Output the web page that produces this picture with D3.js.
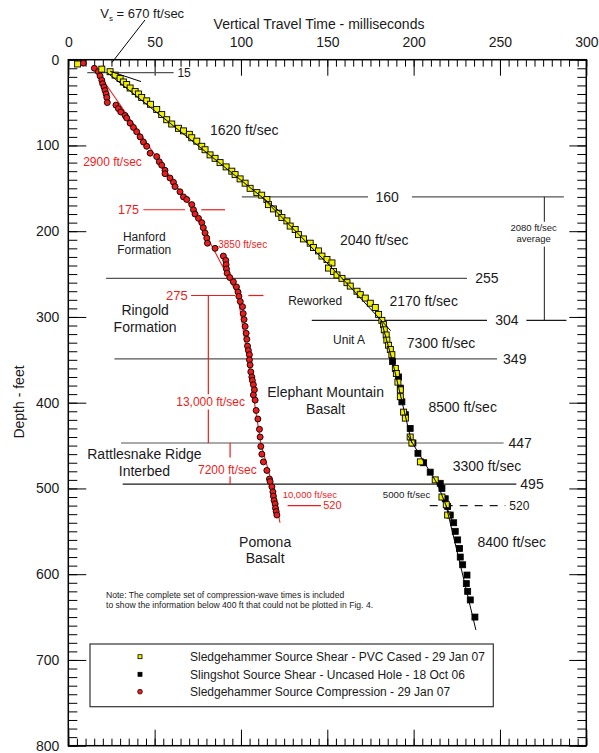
<!DOCTYPE html>
<html>
<head>
<meta charset="utf-8">
<script src="https://cdn.jsdelivr.net/npm/d3@7"></script>
<style>
  body { margin: 0; background: #fff; }
  svg { display: block; font-family: Arial, "Liberation Sans", sans-serif; }
</style>
</head>
<body>
<svg id="chart" width="599" height="753"></svg>
<script>
// ---- Data: [depth (ft), vertical travel time (ms)] ----
const pvcShear = [
  [5,5.4],[11,19.4],[14,24.2],[18,27.1],[22,30.0],[26,31.9],[29,33.8],[33,35.8],[37,38.7],[40,40.6],
  [44,42.5],[48,45.4],[52,47.6],[58,51.2],[64,54.1],[70,57.0],[75,59.9],[80,63.8],[83,66.7],[87,70.1],
  [91,71.5],[95,74.4],[101,77.3],[105,79.2],[111,82.1],[115,85.0],[120,87.9],[125,91.4],[130,94.7],[134,96.6],
  [139,99.5],[144,102.4],[150,105.3],[155,109.2],[158,112.0],[163,115.0],[169,115.9],[174,118.8],[179,121.7],[184,123.7],
  [188,126.6],[194,128.5],[198,131.4],[204,133.3],[209,136.2],[214,140.1],[219,142.0],[223,144.9],[229,146.9],[233,149.8],
  [237,152.7],[243,150.7],[247,153.6],[251,155.6],[255,158.5],[260,161.4],[264,163.3],[270,167.2],[274,169.1],[278,172.0],
  [284,174.9],[289,177.8],[297,179.7],[304,181.6],[309,182.6],[315,183.0],[321,184.1],[327,184.5],[333,185.5],[338,186.5],
  [344,187.4],[360,189.4],[366,190.0],[376,190.9],[385,192.3],[393,192.3],[411,194.2],[418,195.2],[440,198.0],[447,199.0],
  [469,203.9],[490,212.5],[510,216.4],[519,218.9],[531,219.7]
];
const uncasedShear = [
  [352,187.8],[370,191.3],[383,192.3],[399,193.2],[414,195.2],[430,198.0],[447,199.6],[459,202.5],[470,205.8],[481,209.6],
  [494,215.4],[500,216.4],[512,218.3],[521,219.7],[531,221.2],[540,223.2],[550,224.1],[560,225.5],[570,226.6],[580,227.0],
  [589,228.4],[601,230.9],[611,230.5],[620,231.3],[630,232.8],[650,235.5]
];
const compression = [
  [4,8.7],[10,15.1],[14,17.4],[19,18.4],[24,19.4],[28,19.9],[32,20.7],[36,21.3],[40,21.9],[44,22.3],
  [50,22.6],[53,27.6],[57,29.0],[61,30.4],[65,32.9],[68,33.8],[74,35.8],[79,37.7],[84,39.6],[90,41.6],
  [96,43.5],[101,45.4],[109,47.4],[113,51.2],[119,52.7],[123,54.1],[129,56.0],[133,56.0],[138,58.9],[143,60.9],
  [148,61.8],[154,64.7],[160,66.7],[163,68.6],[169,71.5],[175,72.5],[180,73.4],[185,75.4],[190,77.3],[196,78.2],
  [202,79.2],[208,80.2],[214,80.6],[220,85.0],[229,89.8],[234,91.2],[239,91.4],[244,91.6],[249,92.0],[254,93.5],
  [259,95.6],[265,97.4],[271,98.3],[276,98.8],[282,99.6],[288,100.9],[296,101.3],[303,101.8],[311,102.4],[319,103.0],
  [326,103.4],[334,103.8],[339,104.3],[344,104.9],[350,104.9],[356,105.3],[364,105.7],[370,106.3],[374,106.6],[379,107.2],
  [385,107.8],[391,107.2],[397,108.2],[409,108.8],[419,109.8],[431,110.7],[440,111.1],[451,111.5],[460,112.1],[469,113.0],
  [479,115.0],[489,116.5],[492,116.9],[498,117.9],[504,118.5],[509,118.8],[514,119.2],[518,119.8],[523,120.0],[527,120.4],[531,120.8]
];

// Interval velocity fits: anchor time (ms), anchor depth (ft), velocity (ft/sec), depth span drawn
const shearFits = [
  {t0: 24.2,  d0: 13.5, v: 670,  from: 13.5, to: 25.5},
  {t0: 112.0, d0: 160,  v: 1620, from: 15,   to: 179},
  {t0: 112.0, d0: 160,  v: 2040, from: 160,  to: 257},
  {t0: 158.6, d0: 255,  v: 2170, from: 255,  to: 316},
  {t0: 181.2, d0: 304,  v: 7300, from: 304,  to: 349},
  {t0: 187.4, d0: 349,  v: 8500, from: 349,  to: 447},
  {t0: 199.3, d0: 447,  v: 3300, from: 438,  to: 495},
  {t0: 213.8, d0: 495,  v: 5000, from: 495,  to: 540},
  {t0: 218.8, d0: 520,  v: 8400, from: 520,  to: 665}
];
const compressionFits = [
  {t0: 72.2,  d0: 175, v: 2900,  from: 10,  to: 175},
  {t0: 72.2,  d0: 175, v: 3850,  from: 175, to: 285},
  {t0: 98.2,  d0: 275, v: 13000, from: 275, to: 447},
  {t0: 111.4, d0: 447, v: 7200,  from: 447, to: 495},
  {t0: 118.1, d0: 495, v: 10000, from: 495, to: 540}
];

const timeTicks = [0, 50, 100, 150, 200, 250, 300];
const depthTicks = [0, 100, 200, 300, 400, 500, 600, 700, 800];
const legendLabels = [
  "Sledgehammer Source Shear - PVC Cased - 29 Jan 07",
  "Slingshot Source Shear - Uncased Hole - 18 Oct 06",
  "Sledgehammer Source Compression - 29 Jan 07"
];

// ---- Setup ----
const svg = d3.select("#chart");
const x = d3.scaleLinear().domain([0, 300]).range([68.3, 586.3]);
const y = d3.scaleLinear().domain([0, 800]).range([59.7, 745.7]);
const YELLOW = "#f0f000", RED = "#ec1c1c", GRAY = "#555", INK = "#1a1a1a";

// ---- Axes (ticks pointing inward on all four sides) ----
function styleAxis(g) {
  g.select(".domain").remove();
  g.selectAll(".tick line").attr("stroke", "#000").attr("stroke-width", 1);
  g.selectAll("text").attr("font-family", "Arial, 'Liberation Sans', sans-serif")
    .attr("font-size", 14).attr("fill", INK);
}
const minorT = d3.range(0, 301, 5), minorD = d3.range(0, 801, 10);

svg.append("g").attr("transform", `translate(0,${y(0)})`)
  .call(d3.axisTop(x).tickValues(minorT).tickSizeInner(-7).tickSizeOuter(0).tickFormat(""))
  .call(styleAxis);
svg.append("g").attr("transform", `translate(0,${y(0)})`)
  .call(d3.axisTop(x).tickValues(timeTicks).tickSizeInner(-16).tickSizeOuter(0).tickPadding(13).tickFormat(d3.format("d")))
  .call(styleAxis);
svg.append("g").attr("transform", `translate(0,${y(800)})`)
  .call(d3.axisBottom(x).tickValues(minorT).tickSizeInner(-7).tickSizeOuter(0).tickFormat(""))
  .call(styleAxis);
svg.append("g").attr("transform", `translate(0,${y(800)})`)
  .call(d3.axisBottom(x).tickValues(timeTicks).tickSizeInner(-16).tickSizeOuter(0).tickFormat(""))
  .call(styleAxis);
svg.append("g").attr("transform", `translate(${x(0)},0)`)
  .call(d3.axisLeft(y).tickValues(minorD).tickSizeInner(-9).tickSizeOuter(0).tickFormat(""))
  .call(styleAxis);
svg.append("g").attr("transform", `translate(${x(0)},0)`)
  .call(d3.axisLeft(y).tickValues(depthTicks).tickSizeInner(-18).tickSizeOuter(0).tickPadding(9).tickFormat(d3.format("d")))
  .call(styleAxis);
svg.append("g").attr("transform", `translate(${x(300)},0)`)
  .call(d3.axisRight(y).tickValues(minorD).tickSizeInner(-9).tickSizeOuter(0).tickFormat(""))
  .call(styleAxis);
svg.append("g").attr("transform", `translate(${x(300)},0)`)
  .call(d3.axisRight(y).tickValues(depthTicks).tickSizeInner(-17).tickSizeOuter(0).tickFormat(""))
  .call(styleAxis);

svg.append("rect")
  .attr("x", x(0)).attr("y", y(0))
  .attr("width", x(300) - x(0)).attr("height", y(800) - y(0))
  .attr("fill", "none").attr("stroke", "#000").attr("stroke-width", 1.5);

// Axis titles
svg.append("text").attr("x", 319).attr("y", 29).attr("text-anchor", "middle")
  .attr("font-size", 14).attr("fill", INK).text("Vertical Travel Time - milliseconds");
svg.append("text").attr("transform", "translate(24,402) rotate(-90)").attr("text-anchor", "middle")
  .attr("font-size", 14).attr("fill", INK).text("Depth - feet");

// ---- Layer boundaries and annotation lines ----
const ann = svg.append("g");
function hseg(d, t1, t2, color, w, dash) {
  ann.append("line").attr("x1", x(t1)).attr("x2", x(t2)).attr("y1", y(d)).attr("y2", y(d))
    .attr("stroke", color).attr("stroke-width", w || 1.2)
    .attr("stroke-dasharray", dash || null);
}
function vseg(t, d1, d2, color, w) {
  ann.append("line").attr("x1", x(t)).attr("x2", x(t)).attr("y1", y(d1)).attr("y2", y(d2))
    .attr("stroke", color).attr("stroke-width", w || 1.2);
}
function label(t, d, txt, size, color, anchor) {
  return ann.append("text").attr("x", x(t)).attr("y", y(d)).attr("dy", "0.35em")
    .attr("text-anchor", anchor || "middle").attr("font-size", size).attr("fill", color || INK).text(txt);
}

// Shear-wave layer boundaries
hseg(15, 11, 61, GRAY);            label(63.2, 15, "15", 12, INK, "start");
hseg(160, 100.5, 173.6, GRAY);     hseg(160, 199, 287, GRAY);   label(184.7, 160, "160", 14);
hseg(255, 21.9, 230.9, GRAY);      label(235.7, 255, "255", 14, INK, "start");
hseg(304, 141, 242.5, INK);        hseg(304, 265.3, 288.5, INK); label(247.3, 304, "304", 14, INK, "start");
hseg(349, 26.7, 248.3, GRAY);      label(251.8, 349, "349", 14, INK, "start");
hseg(447, 30.5, 252.1, GRAY);      label(254.9, 447, "447", 14, INK, "start");
hseg(495, 31.5, 259.5, INK);       label(261.8, 495, "495", 14, INK, "start");
hseg(520, 209.3, 253.1, INK, 1.1, "8,7"); label(255.4, 520, "520", 12, INK, "start");

// Average velocity bracket
vseg(275.7, 160, 189, INK, 1);     vseg(275.7, 218, 304, INK, 1);
label(269.5, 196, "2080 ft/sec", 9.5);
label(269.5, 209, "average", 9.5);

// Compression-wave boundaries
hseg(175, 43.5, 67.6, RED);        hseg(175, 77, 90.8, RED);    label(28.8, 175, "175", 12.5, RED, "start");
hseg(275, 71.1, 96.6, RED);        hseg(275, 104.3, 113, RED);  label(56.6, 275, "275", 13, RED, "start");
hseg(520, 127, 146.3, RED);        label(147.6, 520, "520", 11, RED, "start");
vseg(81.1, 275, 390, RED);         vseg(81.1, 408, 447, RED);
vseg(93.7, 447, 464, RED);         vseg(93.7, 486, 495, RED);

// ---- Markers ----
const marks = svg.append("g");
function fitPoints(f) {
  return [[f.t0 + (f.from - f.d0) / f.v * 1000, f.from], [f.t0 + (f.to - f.d0) / f.v * 1000, f.to]];
}
const lineGen = d3.line().x(p => x(p[0])).y(p => y(p[1]));

// compression fits under the red circles
marks.selectAll(".pfit").data(compressionFits).join("path")
  .attr("d", f => lineGen(fitPoints(f))).attr("fill", "none")
  .attr("stroke", RED).attr("stroke-width", 1.1);

marks.selectAll(".comp").data(compression).join("circle")
  .attr("cx", p => x(p[1])).attr("cy", p => y(p[0])).attr("r", 3)
  .attr("fill", RED).attr("stroke", "#000").attr("stroke-width", 0.9);

const SQ = 6;
marks.selectAll(".unc").data(uncasedShear).join("rect")
  .attr("x", p => x(p[1]) - SQ / 2).attr("y", p => y(p[0]) - SQ / 2)
  .attr("width", SQ).attr("height", SQ).attr("fill", "#000").attr("stroke", "#000").attr("stroke-width", 0.8);

marks.selectAll(".pvc").data(pvcShear).join("rect")
  .attr("x", p => x(p[1]) - SQ / 2).attr("y", p => y(p[0]) - SQ / 2)
  .attr("width", SQ).attr("height", SQ).attr("fill", YELLOW).attr("stroke", "#000").attr("stroke-width", 0.9);

// shear fits on top
marks.selectAll(".sfit").data(shearFits).join("path")
  .attr("d", f => lineGen(fitPoints(f))).attr("fill", "none")
  .attr("stroke", "#000").attr("stroke-width", 1);

// ---- Velocity labels ----
label(101.9, 82, "1620 ft/sec", 14);
label(177.2, 210.3, "2040 ft/sec", 14);
label(205.8, 281, "2170 ft/sec", 14);
label(215.9, 330, "7300 ft/sec", 14);
label(228.4, 404.7, "8500 ft/sec", 14);
label(242.5, 473.8, "3300 ft/sec", 14);
label(256.8, 562.8, "8400 ft/sec", 14);
label(195.9, 507.6, "5000 ft/sec", 9.7);

label(25.6, 119, "2900 ft/sec", 12, RED);
label(101, 215.3, "3850 ft/sec", 10, RED);
label(82.4, 399.5, "13,000 ft/sec", 12, RED);
label(92.1, 477.7, "7200 ft/sec", 12, RED);
label(139.9, 507.6, "10,000 ft/sec", 9.5, RED);

// ---- Formation names ----
label(143, 281, "Reworked", 12);
label(162.6, 326.9, "Unit A", 12);
label(44, 207.1, "Hanford", 12);
label(44, 221.9, "Formation", 12);
label(44.5, 291.9, "Ringold", 14);
label(44.5, 311.4, "Formation", 14);
label(149, 387.2, "Elephant Mountain", 14);
label(149, 407.7, "Basalt", 14);
label(44.1, 459.8, "Rattlesnake Ridge", 14);
label(44.1, 479.3, "Interbed", 14);
label(114, 562.1, "Pomona", 14);
label(114, 581.5, "Basalt", 14);

// Near-surface velocity callout
const vs = svg.append("text").attr("x", x(42.8)).attr("y", 18).attr("text-anchor", "middle")
  .attr("font-size", 13).attr("fill", INK);
vs.append("tspan").text("V");
vs.append("tspan").attr("font-size", 8).attr("dy", 3).text("s");
vs.append("tspan").attr("dy", -3).text(" = 670 ft/sec");
svg.append("line").attr("x1", x(44.4)).attr("y1", 20).attr("x2", x(25.2)).attr("y2", y(3.5))
  .attr("stroke", "#000").attr("stroke-width", 1);

// Note
const note = svg.append("text").attr("x", 106).attr("font-size", 8.6).attr("fill", INK);
note.append("tspan").attr("x", 106).attr("y", 598).text("Note: The complete set of compression-wave times is included");
note.append("tspan").attr("x", 106).attr("y", 608).text("to show the information below 400 ft that could not be plotted in Fig. 4.");

// ---- Legend ----
const lg = svg.append("g");
lg.append("rect").attr("x", 90).attr("y", 644).attr("width", 403.3).attr("height", 62.7)
  .attr("fill", "#fff").attr("stroke", "#333").attr("stroke-width", 1.2);
const rows = [656.7, 674.3, 691.7];
lg.append("rect").attr("x", 138).attr("y", rows[0] - 2).attr("width", 4).attr("height", 4)
  .attr("fill", YELLOW).attr("stroke", "#000").attr("stroke-width", 0.8);
lg.append("rect").attr("x", 138).attr("y", rows[1] - 2).attr("width", 4).attr("height", 4)
  .attr("fill", "#000").attr("stroke", "#000").attr("stroke-width", 0.8);
lg.append("circle").attr("cx", 140).attr("cy", rows[2]).attr("r", 2.4)
  .attr("fill", RED).attr("stroke", "#000").attr("stroke-width", 0.7);
lg.selectAll(".lt").data(legendLabels).join("text")
  .attr("x", 190).attr("y", (d, i) => rows[i]).attr("dy", "0.35em")
  .attr("font-size", 12).attr("fill", INK).text(d => d);
</script>
</body>
</html>
